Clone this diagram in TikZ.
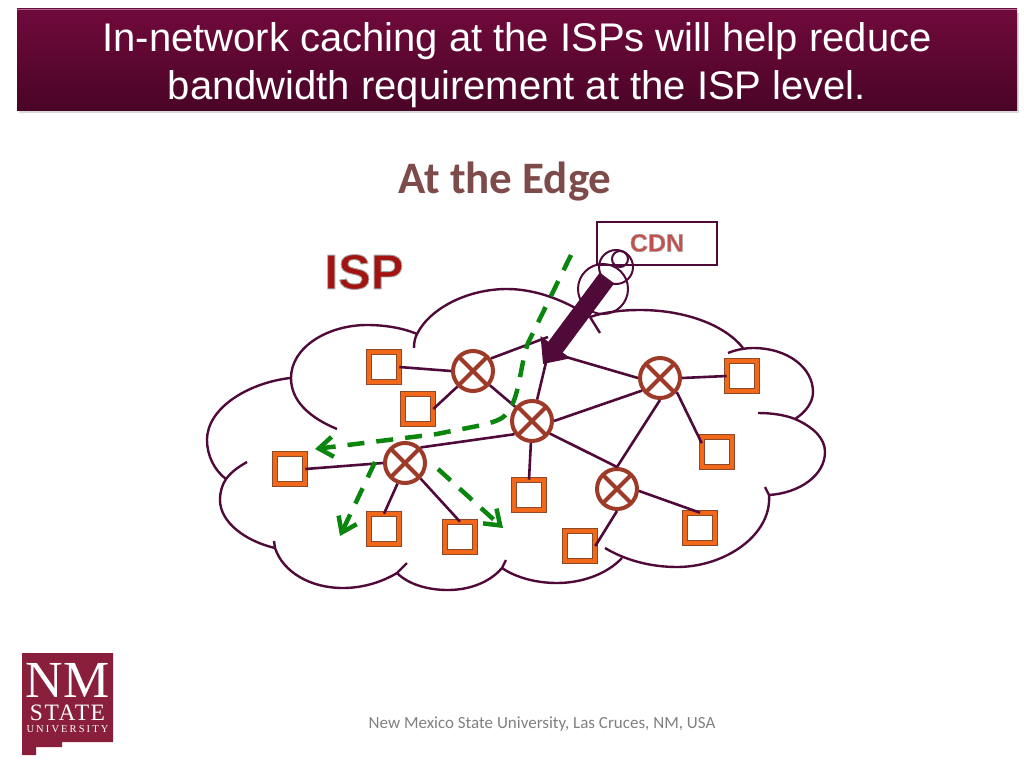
\documentclass[tikz,border=0pt]{standalone}
\usepackage{fontspec}
\setmainfont{Liberation Sans}
\newfontfamily\edgefont{Carlito}
\newfontfamily\logofont{Liberation Serif}
\newfontfamily\logostate[LetterSpace=7]{Liberation Serif}
\newfontfamily\logospaced[LetterSpace=20]{Liberation Serif}
\usetikzlibrary{arrows.meta}
\definecolor{barTop}{HTML}{700A3C}
\definecolor{barBot}{HTML}{4A0426}
\definecolor{cloudline}{HTML}{500A3A}
\definecolor{routerred}{HTML}{9E3A28}
\definecolor{boxorange}{HTML}{F2681A}
\definecolor{boxedge}{HTML}{8A4A28}
\definecolor{pathgreen}{HTML}{0A860F}
\definecolor{logored}{HTML}{8A1F3C}
\definecolor{ispred}{HTML}{A31410}
\definecolor{cdnred}{HTML}{C4504E}
\definecolor{edgebrown}{HTML}{7E4B4B}
\newcommand{\rimtext}[2]{\special{pdf:code q 2 Tr #1 w 0.65 0.65 0.65 RG}#2\special{pdf:code Q}}
\begin{document}
\begin{tikzpicture}[x=1pt,y=-1pt,
  link/.style={draw=cloudline,line width=2.6pt},
  cloud/.style={draw=cloudline,line width=2.4pt},
  router/.style={circle,draw=routerred,fill=white,line width=4pt,minimum size=40pt,inner sep=0pt,
    path picture={\draw[routerred,line width=4pt] (path picture bounding box.north west)--(path picture bounding box.south east)
      (path picture bounding box.north east)--(path picture bounding box.south west);}},
  cache/.style={rectangle,draw=boxedge,line width=0.6pt,double=boxorange,double distance=4.4pt,fill=white,minimum size=30pt,inner sep=0pt},
  path/.style={draw=pathgreen,line width=4.5pt,dash pattern=on 17pt off 12pt,-{Straight Barb[length=14pt,width=20pt,line width=4.5pt]}}]
  \useasboundingbox (0,0) rectangle (1024,768);
  % title bar
  \fill[black!15] (19,13) rectangle (1019,113);
  \shade[top color=barTop,bottom color=barBot] (17,9) rectangle (1017,110);
  \draw[barTop!60!white,line width=1pt] (17,9.5)--(1017,9.5);
  \node[text=white,font=\fontsize{40}{48}\selectfont,align=center] (title) at (517,65) {In-network caching at the ISPs will help reduce\\bandwidth requirement at the ISP level.};
  \node[text=edgebrown,font=\edgefont\bfseries\fontsize{45}{45}\selectfont] (edge) at (505,182) {At the Edge};
  \node[text=ispred,font=\bfseries\fontsize{49}{49}\selectfont] (isp) at (364,272) {\rimtext{0.9}{ISP}};
  % cloud
  \draw[cloud] (337,429) .. controls (308,417) and (291,400) .. (291,378) .. controls (291,347) and (328,325) .. (367,325) .. controls (385,325) and (403,328) .. (417,334);
  \draw[cloud] (414,348) .. controls (414,342) and (415,338) .. (417,334) .. controls (430,308) and (468,289) .. (507,289) .. controls (535,289) and (565,300) .. (590,317);
  \draw[cloud] (600,333)--(590,317) .. controls (605,312) and (622,310) .. (640,310) .. controls (685,310) and (725,325) .. (743,348);
  \draw[cloud] (728,353) .. controls (735,350) and (745,348) .. (753,348) .. controls (788,348) and (813,368) .. (813,392) .. controls (813,402) and (806,412) .. (795,419);
  \draw[cloud] (758,413) .. controls (772,413) and (785,415) .. (795,419) .. controls (813,427) and (825,438) .. (825,452) .. controls (825,475) and (800,493) .. (769,495);
  \draw[cloud] (765,487)--(769,495) .. controls (772,535) and (725,567) .. (677,567) .. controls (650,567) and (625,560) .. (605,548);
  \draw[cloud] (622,558) .. controls (607,574) and (582,583) .. (557,583) .. controls (535,583) and (515,577) .. (502,568);
  \draw[cloud] (506,560)--(502,568) .. controls (490,582) and (470,590) .. (448,590) .. controls (427,590) and (408,584) .. (397,573);
  \draw[cloud] (407,563)--(397,573) .. controls (382,582) and (363,588) .. (343,588) .. controls (310,588) and (283,572) .. (275,548)--(274,541);
  \draw[cloud] (275,548) .. controls (245,541) and (220,522) .. (220,500) .. controls (220,492) and (222,485) .. (226,479) .. controls (232,471) and (240,466) .. (247,462);
  \draw[cloud] (226,479) .. controls (214,470) and (207,455) .. (207,440) .. controls (207,408) and (248,383) .. (290,378);
  % routers and caches
  \node[router] (r1) at (473,371) {};
  \node[router] (r2) at (532,421) {};
  \node[router] (r3) at (660,378) {};
  \node[router] (r4) at (405,463) {};
  \node[router] (r5) at (617,489) {};
  \node[cache] (c1) at (384,367) {};
  \node[cache] (c2) at (418,409) {};
  \node[cache] (c3) at (290,469) {};
  \node[cache] (c4) at (384,529) {};
  \node[cache] (c5) at (460,537) {};
  \node[cache] (c6) at (529,495) {};
  \node[cache] (c7) at (580,546) {};
  \node[cache] (c8) at (700,528) {};
  \node[cache] (c9) at (717,452) {};
  \node[cache] (c10) at (742,376) {};
  \coordinate (gw1) at (548,337);
  \coordinate (gw2) at (547,358);
  \coordinate (gw3) at (566,357);
  \draw[link] (c1.east)--(r1.west);
  \draw[link] (c2.east)--(r1.225);
  \draw[link] (r1)--(r2);
  \draw[link] (r1.35)--(gw1);
  \draw[link] (r2)--(gw2);
  \draw[link] (r3.west)--(gw3);
  \draw[link] (r2.east)--(r3.215);
  \draw[link] (r2.217)--(r4.45);
  \draw[link] (r2.-35)--(r5.north);
  \draw[link] (r2)--(c6.north);
  \draw[link] (r3.east)--(c10.west);
  \draw[link] (r3.-40)--(c9.150);
  \draw[link] (r3.south)--(r5.north);
  \draw[link] (r4.west)--(c3.east);
  \draw[link] (r4.250)--(c4.north);
  \draw[link] (r4.-45)--(c5.north);
  \draw[link] (r5.south)--(c7.east);
  \draw[link] (r5.-5)--(c8.north);
  % CDN and its feed
  \node[draw=cloudline,line width=2.2pt,minimum width=120pt,minimum height=43pt,inner sep=0pt] (cdn) at (657,243.5) {};
  \node[text=cdnred,font=\bfseries\fontsize{25}{25}\selectfont] (cdnlabel) at (657,243) {\rimtext{0.5}{CDN}};
  \node[circle,draw=cloudline,line width=2pt,minimum size=50pt,inner sep=0pt] (feed3) at (603,289) {};
  \node[circle,draw=cloudline,line width=2pt,minimum size=34pt,inner sep=0pt] (feed2) at (616,267) {};
  \node[circle,draw=cloudline,line width=2pt,minimum size=16pt,inner sep=0pt] (feed1) at (620,259) {};
  \coordinate (tip) at (543,364);
  \coordinate (tail) at (607,278);
  \draw[cloudline,line width=18pt,-{Triangle[length=21pt,width=36pt]}] (tail)--(tip);
  % green flows
  \coordinate (g1) at (571,255);
  \coordinate (g2) at (528,343);
  \coordinate (g3) at (502,418);
  \coordinate (g4) at (437,434);
  \coordinate (g5) at (315,449);
  \coordinate (g6) at (375,462);
  \coordinate (g7) at (340,536);
  \coordinate (g8) at (438,469);
  \coordinate (g9) at (503,528);
  \draw[path] (g1)--(g2) .. controls (519,368) and (520,405) .. (g3) .. controls (490,425) and (470,427) .. (g4)--(g5);
  \draw[path] (g6)--(g7);
  \draw[path] (g8)--(g9);
  % logo
  \fill[logored] (22,653)--(113,653)--(113,742)--(62,742)--(62,747)--(36,747)--(36,755)--(22,755)--cycle;
  \node[text=white,font=\logofont\fontsize{52}{52}\selectfont,inner sep=0pt] (nm) at (67.5,680) {NM};
  \node[text=white,font=\logostate\fontsize{23.5}{23.5}\selectfont,inner sep=0pt] (state) at (67.5,712.5) {STATE};
  \node[text=white,font=\logospaced\fontsize{10.5}{10.5}\selectfont,inner sep=0pt] (univ) at (67.5,729) {UNIVERSITY};
  \node[text=black!50,font=\edgefont\fontsize{17}{17}\selectfont] (foot) at (542,724) {New Mexico State University, Las Cruces, NM, USA};
\end{tikzpicture}
\end{document}
